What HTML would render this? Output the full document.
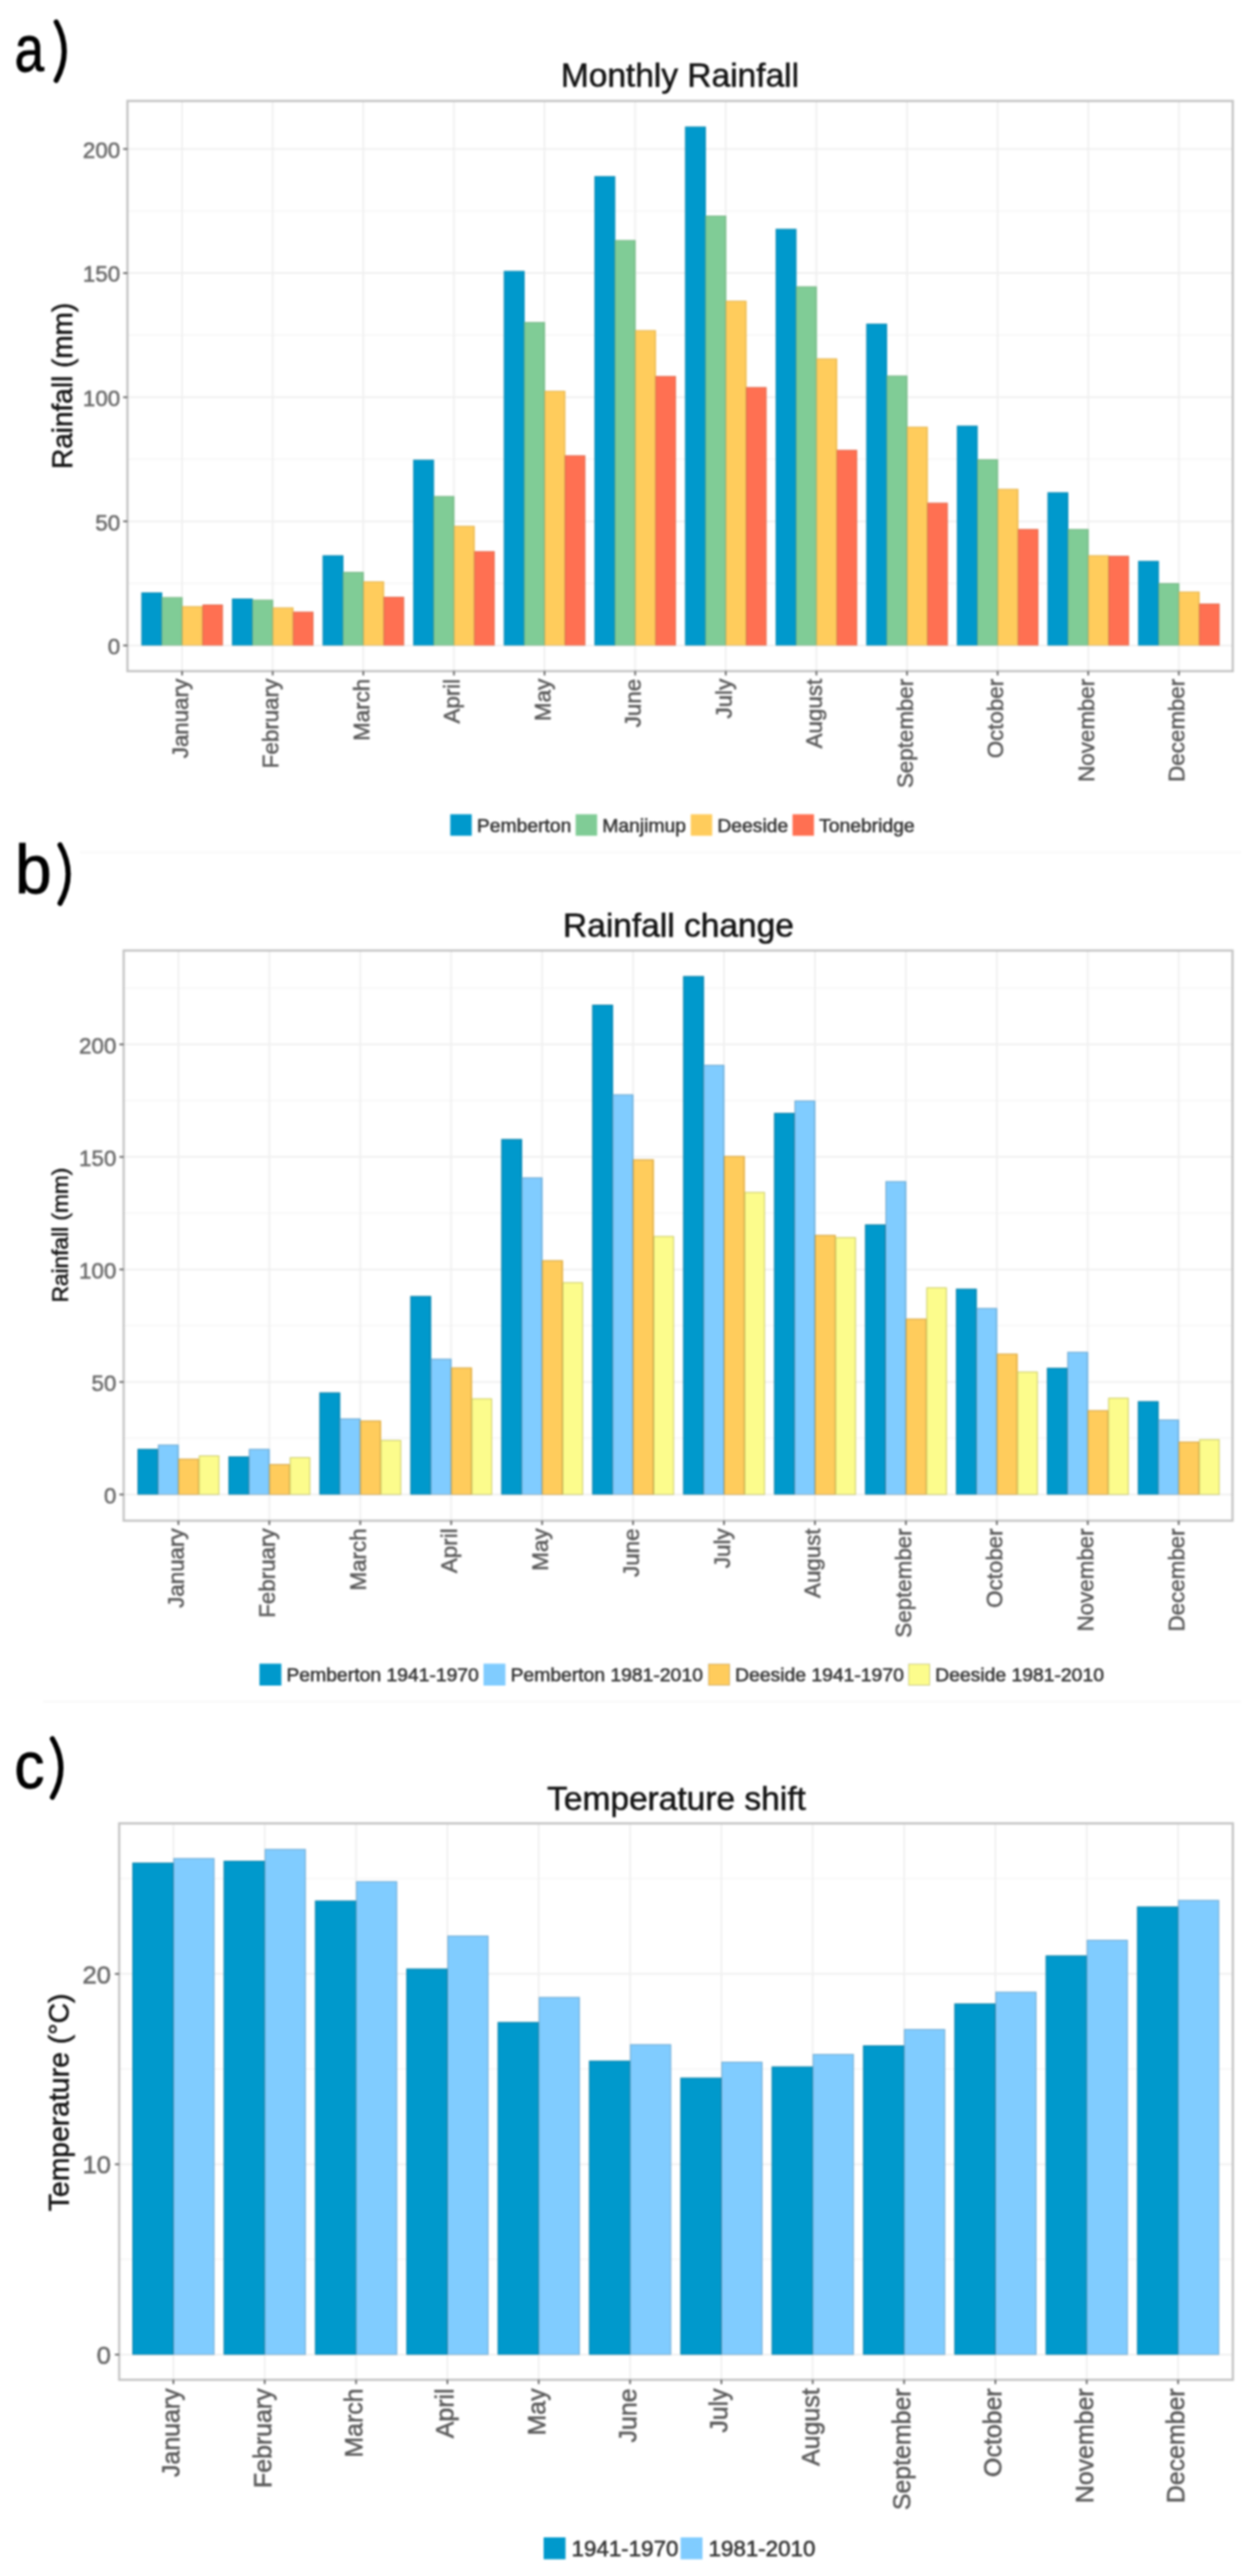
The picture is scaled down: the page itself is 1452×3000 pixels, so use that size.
<!DOCTYPE html>
<html><head><meta charset="utf-8"><title>Rainfall and temperature charts</title>
<style>html,body{margin:0;padding:0;background:#fff;width:1452px;height:3000px;overflow:hidden}
svg text{font-family:"Liberation Sans", sans-serif;} svg{filter:blur(1.0px)}</style></head>
<body>
<svg width="1452" height="3000" viewBox="0 0 1452 3000" style="display:block">
<rect x="0" y="0" width="1452" height="3000" fill="#fff"/>
<line x1="93.00" y1="992.50" x2="1445.00" y2="992.50" stroke="#f8f8f8" stroke-width="2"/>
<line x1="50.00" y1="1981.80" x2="1445.00" y2="1981.80" stroke="#f8f8f8" stroke-width="2"/>
<line x1="148.40" y1="679.43" x2="1435.40" y2="679.43" stroke="#f4f4f4" stroke-width="1.2"/>
<line x1="148.40" y1="534.88" x2="1435.40" y2="534.88" stroke="#f4f4f4" stroke-width="1.2"/>
<line x1="148.40" y1="390.33" x2="1435.40" y2="390.33" stroke="#f4f4f4" stroke-width="1.2"/>
<line x1="148.40" y1="245.78" x2="1435.40" y2="245.78" stroke="#f4f4f4" stroke-width="1.2"/>
<line x1="148.40" y1="751.70" x2="1435.40" y2="751.70" stroke="#f0f0f0" stroke-width="2"/>
<line x1="148.40" y1="607.15" x2="1435.40" y2="607.15" stroke="#f0f0f0" stroke-width="2"/>
<line x1="148.40" y1="462.60" x2="1435.40" y2="462.60" stroke="#f0f0f0" stroke-width="2"/>
<line x1="148.40" y1="318.05" x2="1435.40" y2="318.05" stroke="#f0f0f0" stroke-width="2"/>
<line x1="148.40" y1="173.50" x2="1435.40" y2="173.50" stroke="#f0f0f0" stroke-width="2"/>
<line x1="212.05" y1="117.60" x2="212.05" y2="781.60" stroke="#f0f0f0" stroke-width="2"/>
<line x1="317.56" y1="117.60" x2="317.56" y2="781.60" stroke="#f0f0f0" stroke-width="2"/>
<line x1="423.07" y1="117.60" x2="423.07" y2="781.60" stroke="#f0f0f0" stroke-width="2"/>
<line x1="528.58" y1="117.60" x2="528.58" y2="781.60" stroke="#f0f0f0" stroke-width="2"/>
<line x1="634.09" y1="117.60" x2="634.09" y2="781.60" stroke="#f0f0f0" stroke-width="2"/>
<line x1="739.60" y1="117.60" x2="739.60" y2="781.60" stroke="#f0f0f0" stroke-width="2"/>
<line x1="845.11" y1="117.60" x2="845.11" y2="781.60" stroke="#f0f0f0" stroke-width="2"/>
<line x1="950.62" y1="117.60" x2="950.62" y2="781.60" stroke="#f0f0f0" stroke-width="2"/>
<line x1="1056.13" y1="117.60" x2="1056.13" y2="781.60" stroke="#f0f0f0" stroke-width="2"/>
<line x1="1161.64" y1="117.60" x2="1161.64" y2="781.60" stroke="#f0f0f0" stroke-width="2"/>
<line x1="1267.15" y1="117.60" x2="1267.15" y2="781.60" stroke="#f0f0f0" stroke-width="2"/>
<line x1="1372.66" y1="117.60" x2="1372.66" y2="781.60" stroke="#f0f0f0" stroke-width="2"/>
<rect x="164.57" y="689.90" width="24.34" height="61.80" fill="#0099cc"/>
<rect x="165.07" y="690.40" width="22.74" height="61.30" fill="none" stroke="rgba(90,80,60,0.18)" stroke-width="1"/>
<rect x="188.31" y="695.40" width="24.34" height="56.30" fill="#80cc96"/>
<rect x="188.81" y="695.90" width="22.74" height="55.80" fill="none" stroke="rgba(90,80,60,0.18)" stroke-width="1"/>
<rect x="212.05" y="705.90" width="24.34" height="45.80" fill="#ffcc5c"/>
<rect x="212.55" y="706.40" width="22.74" height="45.30" fill="none" stroke="rgba(90,80,60,0.18)" stroke-width="1"/>
<rect x="235.79" y="704.00" width="23.74" height="47.70" fill="#ff7052"/>
<rect x="236.29" y="704.50" width="22.74" height="47.20" fill="none" stroke="rgba(90,80,60,0.18)" stroke-width="1"/>
<rect x="270.08" y="697.00" width="24.34" height="54.70" fill="#0099cc"/>
<rect x="270.58" y="697.50" width="22.74" height="54.20" fill="none" stroke="rgba(90,80,60,0.18)" stroke-width="1"/>
<rect x="293.82" y="698.40" width="24.34" height="53.30" fill="#80cc96"/>
<rect x="294.32" y="698.90" width="22.74" height="52.80" fill="none" stroke="rgba(90,80,60,0.18)" stroke-width="1"/>
<rect x="317.56" y="707.40" width="24.34" height="44.30" fill="#ffcc5c"/>
<rect x="318.06" y="707.90" width="22.74" height="43.80" fill="none" stroke="rgba(90,80,60,0.18)" stroke-width="1"/>
<rect x="341.30" y="712.40" width="23.74" height="39.30" fill="#ff7052"/>
<rect x="341.80" y="712.90" width="22.74" height="38.80" fill="none" stroke="rgba(90,80,60,0.18)" stroke-width="1"/>
<rect x="375.59" y="646.70" width="24.34" height="105.00" fill="#0099cc"/>
<rect x="376.09" y="647.20" width="22.74" height="104.50" fill="none" stroke="rgba(90,80,60,0.18)" stroke-width="1"/>
<rect x="399.33" y="666.00" width="24.34" height="85.70" fill="#80cc96"/>
<rect x="399.83" y="666.50" width="22.74" height="85.20" fill="none" stroke="rgba(90,80,60,0.18)" stroke-width="1"/>
<rect x="423.07" y="677.00" width="24.34" height="74.70" fill="#ffcc5c"/>
<rect x="423.57" y="677.50" width="22.74" height="74.20" fill="none" stroke="rgba(90,80,60,0.18)" stroke-width="1"/>
<rect x="446.81" y="695.00" width="23.74" height="56.70" fill="#ff7052"/>
<rect x="447.31" y="695.50" width="22.74" height="56.20" fill="none" stroke="rgba(90,80,60,0.18)" stroke-width="1"/>
<rect x="481.10" y="535.40" width="24.34" height="216.30" fill="#0099cc"/>
<rect x="481.60" y="535.90" width="22.74" height="215.80" fill="none" stroke="rgba(90,80,60,0.18)" stroke-width="1"/>
<rect x="504.84" y="577.70" width="24.34" height="174.00" fill="#80cc96"/>
<rect x="505.34" y="578.20" width="22.74" height="173.50" fill="none" stroke="rgba(90,80,60,0.18)" stroke-width="1"/>
<rect x="528.58" y="612.40" width="24.34" height="139.30" fill="#ffcc5c"/>
<rect x="529.08" y="612.90" width="22.74" height="138.80" fill="none" stroke="rgba(90,80,60,0.18)" stroke-width="1"/>
<rect x="552.32" y="641.90" width="23.74" height="109.80" fill="#ff7052"/>
<rect x="552.82" y="642.40" width="22.74" height="109.30" fill="none" stroke="rgba(90,80,60,0.18)" stroke-width="1"/>
<rect x="586.61" y="315.50" width="24.34" height="436.20" fill="#0099cc"/>
<rect x="587.11" y="316.00" width="22.74" height="435.70" fill="none" stroke="rgba(90,80,60,0.18)" stroke-width="1"/>
<rect x="610.35" y="375.00" width="24.34" height="376.70" fill="#80cc96"/>
<rect x="610.85" y="375.50" width="22.74" height="376.20" fill="none" stroke="rgba(90,80,60,0.18)" stroke-width="1"/>
<rect x="634.09" y="455.10" width="24.34" height="296.60" fill="#ffcc5c"/>
<rect x="634.59" y="455.60" width="22.74" height="296.10" fill="none" stroke="rgba(90,80,60,0.18)" stroke-width="1"/>
<rect x="657.83" y="530.30" width="23.74" height="221.40" fill="#ff7052"/>
<rect x="658.33" y="530.80" width="22.74" height="220.90" fill="none" stroke="rgba(90,80,60,0.18)" stroke-width="1"/>
<rect x="692.12" y="205.10" width="24.34" height="546.60" fill="#0099cc"/>
<rect x="692.62" y="205.60" width="22.74" height="546.10" fill="none" stroke="rgba(90,80,60,0.18)" stroke-width="1"/>
<rect x="715.86" y="279.60" width="24.34" height="472.10" fill="#80cc96"/>
<rect x="716.36" y="280.10" width="22.74" height="471.60" fill="none" stroke="rgba(90,80,60,0.18)" stroke-width="1"/>
<rect x="739.60" y="384.50" width="24.34" height="367.20" fill="#ffcc5c"/>
<rect x="740.10" y="385.00" width="22.74" height="366.70" fill="none" stroke="rgba(90,80,60,0.18)" stroke-width="1"/>
<rect x="763.34" y="437.90" width="23.74" height="313.80" fill="#ff7052"/>
<rect x="763.84" y="438.40" width="22.74" height="313.30" fill="none" stroke="rgba(90,80,60,0.18)" stroke-width="1"/>
<rect x="797.63" y="147.40" width="24.34" height="604.30" fill="#0099cc"/>
<rect x="798.13" y="147.90" width="22.74" height="603.80" fill="none" stroke="rgba(90,80,60,0.18)" stroke-width="1"/>
<rect x="821.37" y="251.10" width="24.34" height="500.60" fill="#80cc96"/>
<rect x="821.87" y="251.60" width="22.74" height="500.10" fill="none" stroke="rgba(90,80,60,0.18)" stroke-width="1"/>
<rect x="845.11" y="350.20" width="24.34" height="401.50" fill="#ffcc5c"/>
<rect x="845.61" y="350.70" width="22.74" height="401.00" fill="none" stroke="rgba(90,80,60,0.18)" stroke-width="1"/>
<rect x="868.85" y="450.80" width="23.74" height="300.90" fill="#ff7052"/>
<rect x="869.35" y="451.30" width="22.74" height="300.40" fill="none" stroke="rgba(90,80,60,0.18)" stroke-width="1"/>
<rect x="903.14" y="266.50" width="24.34" height="485.20" fill="#0099cc"/>
<rect x="903.64" y="267.00" width="22.74" height="484.70" fill="none" stroke="rgba(90,80,60,0.18)" stroke-width="1"/>
<rect x="926.88" y="333.50" width="24.34" height="418.20" fill="#80cc96"/>
<rect x="927.38" y="334.00" width="22.74" height="417.70" fill="none" stroke="rgba(90,80,60,0.18)" stroke-width="1"/>
<rect x="950.62" y="417.40" width="24.34" height="334.30" fill="#ffcc5c"/>
<rect x="951.12" y="417.90" width="22.74" height="333.80" fill="none" stroke="rgba(90,80,60,0.18)" stroke-width="1"/>
<rect x="974.36" y="523.90" width="23.74" height="227.80" fill="#ff7052"/>
<rect x="974.86" y="524.40" width="22.74" height="227.30" fill="none" stroke="rgba(90,80,60,0.18)" stroke-width="1"/>
<rect x="1008.65" y="376.90" width="24.34" height="374.80" fill="#0099cc"/>
<rect x="1009.15" y="377.40" width="22.74" height="374.30" fill="none" stroke="rgba(90,80,60,0.18)" stroke-width="1"/>
<rect x="1032.39" y="437.40" width="24.34" height="314.30" fill="#80cc96"/>
<rect x="1032.89" y="437.90" width="22.74" height="313.80" fill="none" stroke="rgba(90,80,60,0.18)" stroke-width="1"/>
<rect x="1056.13" y="496.90" width="24.34" height="254.80" fill="#ffcc5c"/>
<rect x="1056.63" y="497.40" width="22.74" height="254.30" fill="none" stroke="rgba(90,80,60,0.18)" stroke-width="1"/>
<rect x="1079.87" y="585.50" width="23.74" height="166.20" fill="#ff7052"/>
<rect x="1080.37" y="586.00" width="22.74" height="165.70" fill="none" stroke="rgba(90,80,60,0.18)" stroke-width="1"/>
<rect x="1114.16" y="495.70" width="24.34" height="256.00" fill="#0099cc"/>
<rect x="1114.66" y="496.20" width="22.74" height="255.50" fill="none" stroke="rgba(90,80,60,0.18)" stroke-width="1"/>
<rect x="1137.90" y="534.90" width="24.34" height="216.80" fill="#80cc96"/>
<rect x="1138.40" y="535.40" width="22.74" height="216.30" fill="none" stroke="rgba(90,80,60,0.18)" stroke-width="1"/>
<rect x="1161.64" y="569.30" width="24.34" height="182.40" fill="#ffcc5c"/>
<rect x="1162.14" y="569.80" width="22.74" height="181.90" fill="none" stroke="rgba(90,80,60,0.18)" stroke-width="1"/>
<rect x="1185.38" y="616.10" width="23.74" height="135.60" fill="#ff7052"/>
<rect x="1185.88" y="616.60" width="22.74" height="135.10" fill="none" stroke="rgba(90,80,60,0.18)" stroke-width="1"/>
<rect x="1219.67" y="573.30" width="24.34" height="178.40" fill="#0099cc"/>
<rect x="1220.17" y="573.80" width="22.74" height="177.90" fill="none" stroke="rgba(90,80,60,0.18)" stroke-width="1"/>
<rect x="1243.41" y="616.10" width="24.34" height="135.60" fill="#80cc96"/>
<rect x="1243.91" y="616.60" width="22.74" height="135.10" fill="none" stroke="rgba(90,80,60,0.18)" stroke-width="1"/>
<rect x="1267.15" y="646.60" width="24.34" height="105.10" fill="#ffcc5c"/>
<rect x="1267.65" y="647.10" width="22.74" height="104.60" fill="none" stroke="rgba(90,80,60,0.18)" stroke-width="1"/>
<rect x="1290.89" y="647.30" width="23.74" height="104.40" fill="#ff7052"/>
<rect x="1291.39" y="647.80" width="22.74" height="103.90" fill="none" stroke="rgba(90,80,60,0.18)" stroke-width="1"/>
<rect x="1325.18" y="653.20" width="24.34" height="98.50" fill="#0099cc"/>
<rect x="1325.68" y="653.70" width="22.74" height="98.00" fill="none" stroke="rgba(90,80,60,0.18)" stroke-width="1"/>
<rect x="1348.92" y="679.10" width="24.34" height="72.60" fill="#80cc96"/>
<rect x="1349.42" y="679.60" width="22.74" height="72.10" fill="none" stroke="rgba(90,80,60,0.18)" stroke-width="1"/>
<rect x="1372.66" y="688.90" width="24.34" height="62.80" fill="#ffcc5c"/>
<rect x="1373.16" y="689.40" width="22.74" height="62.30" fill="none" stroke="rgba(90,80,60,0.18)" stroke-width="1"/>
<rect x="1396.40" y="702.90" width="23.74" height="48.80" fill="#ff7052"/>
<rect x="1396.90" y="703.40" width="22.74" height="48.30" fill="none" stroke="rgba(90,80,60,0.18)" stroke-width="1"/>
<rect x="148.40" y="117.60" width="1287.00" height="664.00" fill="none" stroke="#c4c4c4" stroke-width="2.6"/>
<line x1="143.40" y1="751.70" x2="148.40" y2="751.70" stroke="#666666" stroke-width="2"/>
<text x="139.90" y="762.06" font-size="26" fill="#6a6a6a" text-anchor="end" stroke="#6a6a6a" stroke-width="0.6">0</text>
<line x1="143.40" y1="607.15" x2="148.40" y2="607.15" stroke="#666666" stroke-width="2"/>
<text x="139.90" y="617.51" font-size="26" fill="#6a6a6a" text-anchor="end" stroke="#6a6a6a" stroke-width="0.6">50</text>
<line x1="143.40" y1="462.60" x2="148.40" y2="462.60" stroke="#666666" stroke-width="2"/>
<text x="139.90" y="472.96" font-size="26" fill="#6a6a6a" text-anchor="end" stroke="#6a6a6a" stroke-width="0.6">100</text>
<line x1="143.40" y1="318.05" x2="148.40" y2="318.05" stroke="#666666" stroke-width="2"/>
<text x="139.90" y="328.41" font-size="26" fill="#6a6a6a" text-anchor="end" stroke="#6a6a6a" stroke-width="0.6">150</text>
<line x1="143.40" y1="173.50" x2="148.40" y2="173.50" stroke="#666666" stroke-width="2"/>
<text x="139.90" y="183.86" font-size="26" fill="#6a6a6a" text-anchor="end" stroke="#6a6a6a" stroke-width="0.6">200</text>
<line x1="212.05" y1="781.60" x2="212.05" y2="786.60" stroke="#666666" stroke-width="2"/>
<text x="218.55" y="790.60" font-size="26" fill="#5a5a5a" text-anchor="end" stroke="#5a5a5a" stroke-width="0.6" transform="rotate(-90 218.55 790.60)">January</text>
<line x1="317.56" y1="781.60" x2="317.56" y2="786.60" stroke="#666666" stroke-width="2"/>
<text x="324.06" y="790.60" font-size="26" fill="#5a5a5a" text-anchor="end" stroke="#5a5a5a" stroke-width="0.6" transform="rotate(-90 324.06 790.60)">February</text>
<line x1="423.07" y1="781.60" x2="423.07" y2="786.60" stroke="#666666" stroke-width="2"/>
<text x="429.57" y="790.60" font-size="26" fill="#5a5a5a" text-anchor="end" stroke="#5a5a5a" stroke-width="0.6" transform="rotate(-90 429.57 790.60)">March</text>
<line x1="528.58" y1="781.60" x2="528.58" y2="786.60" stroke="#666666" stroke-width="2"/>
<text x="535.08" y="790.60" font-size="26" fill="#5a5a5a" text-anchor="end" stroke="#5a5a5a" stroke-width="0.6" transform="rotate(-90 535.08 790.60)">April</text>
<line x1="634.09" y1="781.60" x2="634.09" y2="786.60" stroke="#666666" stroke-width="2"/>
<text x="640.59" y="790.60" font-size="26" fill="#5a5a5a" text-anchor="end" stroke="#5a5a5a" stroke-width="0.6" transform="rotate(-90 640.59 790.60)">May</text>
<line x1="739.60" y1="781.60" x2="739.60" y2="786.60" stroke="#666666" stroke-width="2"/>
<text x="746.10" y="790.60" font-size="26" fill="#5a5a5a" text-anchor="end" stroke="#5a5a5a" stroke-width="0.6" transform="rotate(-90 746.10 790.60)">June</text>
<line x1="845.11" y1="781.60" x2="845.11" y2="786.60" stroke="#666666" stroke-width="2"/>
<text x="851.61" y="790.60" font-size="26" fill="#5a5a5a" text-anchor="end" stroke="#5a5a5a" stroke-width="0.6" transform="rotate(-90 851.61 790.60)">July</text>
<line x1="950.62" y1="781.60" x2="950.62" y2="786.60" stroke="#666666" stroke-width="2"/>
<text x="957.12" y="790.60" font-size="26" fill="#5a5a5a" text-anchor="end" stroke="#5a5a5a" stroke-width="0.6" transform="rotate(-90 957.12 790.60)">August</text>
<line x1="1056.13" y1="781.60" x2="1056.13" y2="786.60" stroke="#666666" stroke-width="2"/>
<text x="1062.63" y="790.60" font-size="26" fill="#5a5a5a" text-anchor="end" stroke="#5a5a5a" stroke-width="0.6" transform="rotate(-90 1062.63 790.60)">September</text>
<line x1="1161.64" y1="781.60" x2="1161.64" y2="786.60" stroke="#666666" stroke-width="2"/>
<text x="1168.14" y="790.60" font-size="26" fill="#5a5a5a" text-anchor="end" stroke="#5a5a5a" stroke-width="0.6" transform="rotate(-90 1168.14 790.60)">October</text>
<line x1="1267.15" y1="781.60" x2="1267.15" y2="786.60" stroke="#666666" stroke-width="2"/>
<text x="1273.65" y="790.60" font-size="26" fill="#5a5a5a" text-anchor="end" stroke="#5a5a5a" stroke-width="0.6" transform="rotate(-90 1273.65 790.60)">November</text>
<line x1="1372.66" y1="781.60" x2="1372.66" y2="786.60" stroke="#666666" stroke-width="2"/>
<text x="1379.16" y="790.60" font-size="26" fill="#5a5a5a" text-anchor="end" stroke="#5a5a5a" stroke-width="0.6" transform="rotate(-90 1379.16 790.60)">December</text>
<text x="791.70" y="101.30" font-size="39" fill="#141414" text-anchor="middle" stroke="#141414" stroke-width="0.6">Monthly Rainfall</text>
<text x="83.80" y="449.40" font-size="32.5" fill="#141414" text-anchor="middle" stroke="#141414" stroke-width="0.6" transform="rotate(-90 83.80 449.40)">Rainfall (mm)</text>
<text transform="translate(17.00 82.60) scale(0.81 1)" x="0" y="0" font-size="76" fill="#000" stroke="#000" stroke-width="0.9">a</text>
<path d="M65.5 25.6 Q84.1 59.6 65.5 93.6" fill="none" stroke="#000" stroke-width="6" stroke-linecap="round"/>
<rect x="524.30" y="948.30" width="25.00" height="25.00" fill="#0099cc"/>
<text x="555.30" y="968.90" font-size="22.5" fill="#333" text-anchor="start" stroke="#333" stroke-width="0.6">Pemberton</text>
<rect x="670.30" y="948.30" width="25.00" height="25.00" fill="#80cc96"/>
<text x="701.30" y="968.90" font-size="22.5" fill="#333" text-anchor="start" stroke="#333" stroke-width="0.6">Manjimup</text>
<rect x="804.30" y="948.30" width="25.00" height="25.00" fill="#ffcc5c"/>
<text x="835.30" y="968.90" font-size="22.5" fill="#333" text-anchor="start" stroke="#333" stroke-width="0.6">Deeside</text>
<rect x="922.80" y="948.30" width="25.00" height="25.00" fill="#ff7052"/>
<text x="953.80" y="968.90" font-size="22.5" fill="#333" text-anchor="start" stroke="#333" stroke-width="0.6">Tonebridge</text>
<line x1="144.00" y1="1674.97" x2="1435.10" y2="1674.97" stroke="#f4f4f4" stroke-width="1.2"/>
<line x1="144.00" y1="1543.92" x2="1435.10" y2="1543.92" stroke="#f4f4f4" stroke-width="1.2"/>
<line x1="144.00" y1="1412.88" x2="1435.10" y2="1412.88" stroke="#f4f4f4" stroke-width="1.2"/>
<line x1="144.00" y1="1281.83" x2="1435.10" y2="1281.83" stroke="#f4f4f4" stroke-width="1.2"/>
<line x1="144.00" y1="1150.78" x2="1435.10" y2="1150.78" stroke="#f4f4f4" stroke-width="1.2"/>
<line x1="144.00" y1="1740.50" x2="1435.10" y2="1740.50" stroke="#f0f0f0" stroke-width="2"/>
<line x1="144.00" y1="1609.45" x2="1435.10" y2="1609.45" stroke="#f0f0f0" stroke-width="2"/>
<line x1="144.00" y1="1478.40" x2="1435.10" y2="1478.40" stroke="#f0f0f0" stroke-width="2"/>
<line x1="144.00" y1="1347.35" x2="1435.10" y2="1347.35" stroke="#f0f0f0" stroke-width="2"/>
<line x1="144.00" y1="1216.30" x2="1435.10" y2="1216.30" stroke="#f0f0f0" stroke-width="2"/>
<line x1="207.70" y1="1107.00" x2="207.70" y2="1771.00" stroke="#f0f0f0" stroke-width="2"/>
<line x1="313.59" y1="1107.00" x2="313.59" y2="1771.00" stroke="#f0f0f0" stroke-width="2"/>
<line x1="419.48" y1="1107.00" x2="419.48" y2="1771.00" stroke="#f0f0f0" stroke-width="2"/>
<line x1="525.37" y1="1107.00" x2="525.37" y2="1771.00" stroke="#f0f0f0" stroke-width="2"/>
<line x1="631.26" y1="1107.00" x2="631.26" y2="1771.00" stroke="#f0f0f0" stroke-width="2"/>
<line x1="737.15" y1="1107.00" x2="737.15" y2="1771.00" stroke="#f0f0f0" stroke-width="2"/>
<line x1="843.04" y1="1107.00" x2="843.04" y2="1771.00" stroke="#f0f0f0" stroke-width="2"/>
<line x1="948.93" y1="1107.00" x2="948.93" y2="1771.00" stroke="#f0f0f0" stroke-width="2"/>
<line x1="1054.82" y1="1107.00" x2="1054.82" y2="1771.00" stroke="#f0f0f0" stroke-width="2"/>
<line x1="1160.71" y1="1107.00" x2="1160.71" y2="1771.00" stroke="#f0f0f0" stroke-width="2"/>
<line x1="1266.60" y1="1107.00" x2="1266.60" y2="1771.00" stroke="#f0f0f0" stroke-width="2"/>
<line x1="1372.49" y1="1107.00" x2="1372.49" y2="1771.00" stroke="#f0f0f0" stroke-width="2"/>
<rect x="160.05" y="1687.40" width="24.43" height="53.10" fill="#0099cc"/>
<rect x="160.55" y="1687.90" width="22.83" height="52.60" fill="none" stroke="rgba(60,60,60,0.28)" stroke-width="1"/>
<rect x="183.87" y="1682.40" width="24.43" height="58.10" fill="#80ccff"/>
<rect x="184.37" y="1682.90" width="22.83" height="57.60" fill="none" stroke="rgba(60,60,60,0.28)" stroke-width="1"/>
<rect x="207.70" y="1698.80" width="24.43" height="41.70" fill="#ffcc5c"/>
<rect x="208.20" y="1699.30" width="22.83" height="41.20" fill="none" stroke="rgba(150,110,40,0.45)" stroke-width="1"/>
<rect x="231.53" y="1695.00" width="23.83" height="45.50" fill="#fcfc8c"/>
<rect x="232.03" y="1695.50" width="22.83" height="45.00" fill="none" stroke="rgba(140,140,60,0.45)" stroke-width="1"/>
<rect x="265.94" y="1696.10" width="24.43" height="44.40" fill="#0099cc"/>
<rect x="266.44" y="1696.60" width="22.83" height="43.90" fill="none" stroke="rgba(60,60,60,0.28)" stroke-width="1"/>
<rect x="289.76" y="1687.40" width="24.43" height="53.10" fill="#80ccff"/>
<rect x="290.26" y="1687.90" width="22.83" height="52.60" fill="none" stroke="rgba(60,60,60,0.28)" stroke-width="1"/>
<rect x="313.59" y="1705.10" width="24.43" height="35.40" fill="#ffcc5c"/>
<rect x="314.09" y="1705.60" width="22.83" height="34.90" fill="none" stroke="rgba(150,110,40,0.45)" stroke-width="1"/>
<rect x="337.42" y="1697.00" width="23.83" height="43.50" fill="#fcfc8c"/>
<rect x="337.92" y="1697.50" width="22.83" height="43.00" fill="none" stroke="rgba(140,140,60,0.45)" stroke-width="1"/>
<rect x="371.83" y="1621.60" width="24.43" height="118.90" fill="#0099cc"/>
<rect x="372.33" y="1622.10" width="22.83" height="118.40" fill="none" stroke="rgba(60,60,60,0.28)" stroke-width="1"/>
<rect x="395.65" y="1651.90" width="24.43" height="88.60" fill="#80ccff"/>
<rect x="396.15" y="1652.40" width="22.83" height="88.10" fill="none" stroke="rgba(60,60,60,0.28)" stroke-width="1"/>
<rect x="419.48" y="1654.40" width="24.43" height="86.10" fill="#ffcc5c"/>
<rect x="419.98" y="1654.90" width="22.83" height="85.60" fill="none" stroke="rgba(150,110,40,0.45)" stroke-width="1"/>
<rect x="443.31" y="1677.00" width="23.83" height="63.50" fill="#fcfc8c"/>
<rect x="443.81" y="1677.50" width="22.83" height="63.00" fill="none" stroke="rgba(140,140,60,0.45)" stroke-width="1"/>
<rect x="477.72" y="1509.30" width="24.43" height="231.20" fill="#0099cc"/>
<rect x="478.22" y="1509.80" width="22.83" height="230.70" fill="none" stroke="rgba(60,60,60,0.28)" stroke-width="1"/>
<rect x="501.54" y="1582.40" width="24.43" height="158.10" fill="#80ccff"/>
<rect x="502.04" y="1582.90" width="22.83" height="157.60" fill="none" stroke="rgba(60,60,60,0.28)" stroke-width="1"/>
<rect x="525.37" y="1592.60" width="24.43" height="147.90" fill="#ffcc5c"/>
<rect x="525.87" y="1593.10" width="22.83" height="147.40" fill="none" stroke="rgba(150,110,40,0.45)" stroke-width="1"/>
<rect x="549.20" y="1628.60" width="23.83" height="111.90" fill="#fcfc8c"/>
<rect x="549.70" y="1629.10" width="22.83" height="111.40" fill="none" stroke="rgba(140,140,60,0.45)" stroke-width="1"/>
<rect x="583.61" y="1326.50" width="24.43" height="414.00" fill="#0099cc"/>
<rect x="584.11" y="1327.00" width="22.83" height="413.50" fill="none" stroke="rgba(60,60,60,0.28)" stroke-width="1"/>
<rect x="607.43" y="1371.20" width="24.43" height="369.30" fill="#80ccff"/>
<rect x="607.93" y="1371.70" width="22.83" height="368.80" fill="none" stroke="rgba(60,60,60,0.28)" stroke-width="1"/>
<rect x="631.26" y="1467.70" width="24.43" height="272.80" fill="#ffcc5c"/>
<rect x="631.76" y="1468.20" width="22.83" height="272.30" fill="none" stroke="rgba(150,110,40,0.45)" stroke-width="1"/>
<rect x="655.09" y="1493.30" width="23.83" height="247.20" fill="#fcfc8c"/>
<rect x="655.59" y="1493.80" width="22.83" height="246.70" fill="none" stroke="rgba(140,140,60,0.45)" stroke-width="1"/>
<rect x="689.50" y="1170.00" width="24.43" height="570.50" fill="#0099cc"/>
<rect x="690.00" y="1170.50" width="22.83" height="570.00" fill="none" stroke="rgba(60,60,60,0.28)" stroke-width="1"/>
<rect x="713.32" y="1274.50" width="24.43" height="466.00" fill="#80ccff"/>
<rect x="713.82" y="1275.00" width="22.83" height="465.50" fill="none" stroke="rgba(60,60,60,0.28)" stroke-width="1"/>
<rect x="737.15" y="1350.20" width="24.43" height="390.30" fill="#ffcc5c"/>
<rect x="737.65" y="1350.70" width="22.83" height="389.80" fill="none" stroke="rgba(150,110,40,0.45)" stroke-width="1"/>
<rect x="760.98" y="1439.50" width="23.83" height="301.00" fill="#fcfc8c"/>
<rect x="761.48" y="1440.00" width="22.83" height="300.50" fill="none" stroke="rgba(140,140,60,0.45)" stroke-width="1"/>
<rect x="795.39" y="1136.70" width="24.43" height="603.80" fill="#0099cc"/>
<rect x="795.89" y="1137.20" width="22.83" height="603.30" fill="none" stroke="rgba(60,60,60,0.28)" stroke-width="1"/>
<rect x="819.21" y="1240.10" width="24.43" height="500.40" fill="#80ccff"/>
<rect x="819.71" y="1240.60" width="22.83" height="499.90" fill="none" stroke="rgba(60,60,60,0.28)" stroke-width="1"/>
<rect x="843.04" y="1346.30" width="24.43" height="394.20" fill="#ffcc5c"/>
<rect x="843.54" y="1346.80" width="22.83" height="393.70" fill="none" stroke="rgba(150,110,40,0.45)" stroke-width="1"/>
<rect x="866.87" y="1388.20" width="23.83" height="352.30" fill="#fcfc8c"/>
<rect x="867.37" y="1388.70" width="22.83" height="351.80" fill="none" stroke="rgba(140,140,60,0.45)" stroke-width="1"/>
<rect x="901.28" y="1296.00" width="24.43" height="444.50" fill="#0099cc"/>
<rect x="901.78" y="1296.50" width="22.83" height="444.00" fill="none" stroke="rgba(60,60,60,0.28)" stroke-width="1"/>
<rect x="925.10" y="1281.70" width="24.43" height="458.80" fill="#80ccff"/>
<rect x="925.60" y="1282.20" width="22.83" height="458.30" fill="none" stroke="rgba(60,60,60,0.28)" stroke-width="1"/>
<rect x="948.93" y="1438.20" width="24.43" height="302.30" fill="#ffcc5c"/>
<rect x="949.43" y="1438.70" width="22.83" height="301.80" fill="none" stroke="rgba(150,110,40,0.45)" stroke-width="1"/>
<rect x="972.76" y="1440.80" width="23.83" height="299.70" fill="#fcfc8c"/>
<rect x="973.26" y="1441.30" width="22.83" height="299.20" fill="none" stroke="rgba(140,140,60,0.45)" stroke-width="1"/>
<rect x="1007.17" y="1425.90" width="24.43" height="314.60" fill="#0099cc"/>
<rect x="1007.67" y="1426.40" width="22.83" height="314.10" fill="none" stroke="rgba(60,60,60,0.28)" stroke-width="1"/>
<rect x="1030.99" y="1375.60" width="24.43" height="364.90" fill="#80ccff"/>
<rect x="1031.49" y="1376.10" width="22.83" height="364.40" fill="none" stroke="rgba(60,60,60,0.28)" stroke-width="1"/>
<rect x="1054.82" y="1535.70" width="24.43" height="204.80" fill="#ffcc5c"/>
<rect x="1055.32" y="1536.20" width="22.83" height="204.30" fill="none" stroke="rgba(150,110,40,0.45)" stroke-width="1"/>
<rect x="1078.65" y="1499.30" width="23.83" height="241.20" fill="#fcfc8c"/>
<rect x="1079.15" y="1499.80" width="22.83" height="240.70" fill="none" stroke="rgba(140,140,60,0.45)" stroke-width="1"/>
<rect x="1113.06" y="1500.80" width="24.43" height="239.70" fill="#0099cc"/>
<rect x="1113.56" y="1501.30" width="22.83" height="239.20" fill="none" stroke="rgba(60,60,60,0.28)" stroke-width="1"/>
<rect x="1136.88" y="1523.30" width="24.43" height="217.20" fill="#80ccff"/>
<rect x="1137.38" y="1523.80" width="22.83" height="216.70" fill="none" stroke="rgba(60,60,60,0.28)" stroke-width="1"/>
<rect x="1160.71" y="1576.50" width="24.43" height="164.00" fill="#ffcc5c"/>
<rect x="1161.21" y="1577.00" width="22.83" height="163.50" fill="none" stroke="rgba(150,110,40,0.45)" stroke-width="1"/>
<rect x="1184.54" y="1597.40" width="23.83" height="143.10" fill="#fcfc8c"/>
<rect x="1185.04" y="1597.90" width="22.83" height="142.60" fill="none" stroke="rgba(140,140,60,0.45)" stroke-width="1"/>
<rect x="1218.95" y="1592.90" width="24.43" height="147.60" fill="#0099cc"/>
<rect x="1219.45" y="1593.40" width="22.83" height="147.10" fill="none" stroke="rgba(60,60,60,0.28)" stroke-width="1"/>
<rect x="1242.77" y="1574.40" width="24.43" height="166.10" fill="#80ccff"/>
<rect x="1243.27" y="1574.90" width="22.83" height="165.60" fill="none" stroke="rgba(60,60,60,0.28)" stroke-width="1"/>
<rect x="1266.60" y="1642.40" width="24.43" height="98.10" fill="#ffcc5c"/>
<rect x="1267.10" y="1642.90" width="22.83" height="97.60" fill="none" stroke="rgba(150,110,40,0.45)" stroke-width="1"/>
<rect x="1290.43" y="1627.80" width="23.83" height="112.70" fill="#fcfc8c"/>
<rect x="1290.93" y="1628.30" width="22.83" height="112.20" fill="none" stroke="rgba(140,140,60,0.45)" stroke-width="1"/>
<rect x="1324.84" y="1631.80" width="24.43" height="108.70" fill="#0099cc"/>
<rect x="1325.34" y="1632.30" width="22.83" height="108.20" fill="none" stroke="rgba(60,60,60,0.28)" stroke-width="1"/>
<rect x="1348.66" y="1653.20" width="24.43" height="87.30" fill="#80ccff"/>
<rect x="1349.16" y="1653.70" width="22.83" height="86.80" fill="none" stroke="rgba(60,60,60,0.28)" stroke-width="1"/>
<rect x="1372.49" y="1678.90" width="24.43" height="61.60" fill="#ffcc5c"/>
<rect x="1372.99" y="1679.40" width="22.83" height="61.10" fill="none" stroke="rgba(150,110,40,0.45)" stroke-width="1"/>
<rect x="1396.32" y="1676.20" width="23.83" height="64.30" fill="#fcfc8c"/>
<rect x="1396.82" y="1676.70" width="22.83" height="63.80" fill="none" stroke="rgba(140,140,60,0.45)" stroke-width="1"/>
<rect x="144.00" y="1107.00" width="1291.10" height="664.00" fill="none" stroke="#c4c4c4" stroke-width="2.6"/>
<line x1="139.00" y1="1740.50" x2="144.00" y2="1740.50" stroke="#666666" stroke-width="2"/>
<text x="135.50" y="1750.86" font-size="26" fill="#6a6a6a" text-anchor="end" stroke="#6a6a6a" stroke-width="0.6">0</text>
<line x1="139.00" y1="1609.45" x2="144.00" y2="1609.45" stroke="#666666" stroke-width="2"/>
<text x="135.50" y="1619.81" font-size="26" fill="#6a6a6a" text-anchor="end" stroke="#6a6a6a" stroke-width="0.6">50</text>
<line x1="139.00" y1="1478.40" x2="144.00" y2="1478.40" stroke="#666666" stroke-width="2"/>
<text x="135.50" y="1488.76" font-size="26" fill="#6a6a6a" text-anchor="end" stroke="#6a6a6a" stroke-width="0.6">100</text>
<line x1="139.00" y1="1347.35" x2="144.00" y2="1347.35" stroke="#666666" stroke-width="2"/>
<text x="135.50" y="1357.71" font-size="26" fill="#6a6a6a" text-anchor="end" stroke="#6a6a6a" stroke-width="0.6">150</text>
<line x1="139.00" y1="1216.30" x2="144.00" y2="1216.30" stroke="#666666" stroke-width="2"/>
<text x="135.50" y="1226.66" font-size="26" fill="#6a6a6a" text-anchor="end" stroke="#6a6a6a" stroke-width="0.6">200</text>
<line x1="207.70" y1="1771.00" x2="207.70" y2="1776.00" stroke="#666666" stroke-width="2"/>
<text x="214.20" y="1780.00" font-size="26" fill="#5a5a5a" text-anchor="end" stroke="#5a5a5a" stroke-width="0.6" transform="rotate(-90 214.20 1780.00)">January</text>
<line x1="313.59" y1="1771.00" x2="313.59" y2="1776.00" stroke="#666666" stroke-width="2"/>
<text x="320.09" y="1780.00" font-size="26" fill="#5a5a5a" text-anchor="end" stroke="#5a5a5a" stroke-width="0.6" transform="rotate(-90 320.09 1780.00)">February</text>
<line x1="419.48" y1="1771.00" x2="419.48" y2="1776.00" stroke="#666666" stroke-width="2"/>
<text x="425.98" y="1780.00" font-size="26" fill="#5a5a5a" text-anchor="end" stroke="#5a5a5a" stroke-width="0.6" transform="rotate(-90 425.98 1780.00)">March</text>
<line x1="525.37" y1="1771.00" x2="525.37" y2="1776.00" stroke="#666666" stroke-width="2"/>
<text x="531.87" y="1780.00" font-size="26" fill="#5a5a5a" text-anchor="end" stroke="#5a5a5a" stroke-width="0.6" transform="rotate(-90 531.87 1780.00)">April</text>
<line x1="631.26" y1="1771.00" x2="631.26" y2="1776.00" stroke="#666666" stroke-width="2"/>
<text x="637.76" y="1780.00" font-size="26" fill="#5a5a5a" text-anchor="end" stroke="#5a5a5a" stroke-width="0.6" transform="rotate(-90 637.76 1780.00)">May</text>
<line x1="737.15" y1="1771.00" x2="737.15" y2="1776.00" stroke="#666666" stroke-width="2"/>
<text x="743.65" y="1780.00" font-size="26" fill="#5a5a5a" text-anchor="end" stroke="#5a5a5a" stroke-width="0.6" transform="rotate(-90 743.65 1780.00)">June</text>
<line x1="843.04" y1="1771.00" x2="843.04" y2="1776.00" stroke="#666666" stroke-width="2"/>
<text x="849.54" y="1780.00" font-size="26" fill="#5a5a5a" text-anchor="end" stroke="#5a5a5a" stroke-width="0.6" transform="rotate(-90 849.54 1780.00)">July</text>
<line x1="948.93" y1="1771.00" x2="948.93" y2="1776.00" stroke="#666666" stroke-width="2"/>
<text x="955.43" y="1780.00" font-size="26" fill="#5a5a5a" text-anchor="end" stroke="#5a5a5a" stroke-width="0.6" transform="rotate(-90 955.43 1780.00)">August</text>
<line x1="1054.82" y1="1771.00" x2="1054.82" y2="1776.00" stroke="#666666" stroke-width="2"/>
<text x="1061.32" y="1780.00" font-size="26" fill="#5a5a5a" text-anchor="end" stroke="#5a5a5a" stroke-width="0.6" transform="rotate(-90 1061.32 1780.00)">September</text>
<line x1="1160.71" y1="1771.00" x2="1160.71" y2="1776.00" stroke="#666666" stroke-width="2"/>
<text x="1167.21" y="1780.00" font-size="26" fill="#5a5a5a" text-anchor="end" stroke="#5a5a5a" stroke-width="0.6" transform="rotate(-90 1167.21 1780.00)">October</text>
<line x1="1266.60" y1="1771.00" x2="1266.60" y2="1776.00" stroke="#666666" stroke-width="2"/>
<text x="1273.10" y="1780.00" font-size="26" fill="#5a5a5a" text-anchor="end" stroke="#5a5a5a" stroke-width="0.6" transform="rotate(-90 1273.10 1780.00)">November</text>
<line x1="1372.49" y1="1771.00" x2="1372.49" y2="1776.00" stroke="#666666" stroke-width="2"/>
<text x="1378.99" y="1780.00" font-size="26" fill="#5a5a5a" text-anchor="end" stroke="#5a5a5a" stroke-width="0.6" transform="rotate(-90 1378.99 1780.00)">December</text>
<text x="790.00" y="1091.30" font-size="39" fill="#141414" text-anchor="middle" stroke="#141414" stroke-width="0.6">Rainfall change</text>
<text x="79.00" y="1438.40" font-size="26.4" fill="#141414" text-anchor="middle" stroke="#141414" stroke-width="0.6" transform="rotate(-90 79.00 1438.40)">Rainfall (mm)</text>
<text transform="translate(17.60 1040.00) scale(0.96 1)" x="0" y="0" font-size="79.9" fill="#000" stroke="#000" stroke-width="0.9">b</text>
<path d="M69.9 984 Q88.9 1018 69.9 1052" fill="none" stroke="#000" stroke-width="6" stroke-linecap="round"/>
<rect x="302.10" y="1937.50" width="25.50" height="25.50" fill="#0099cc"/>
<text x="333.60" y="1958.35" font-size="22.5" fill="#333" text-anchor="start" stroke="#333" stroke-width="0.6">Pemberton 1941-1970</text>
<rect x="563.00" y="1937.50" width="25.50" height="25.50" fill="#80ccff"/>
<text x="594.50" y="1958.35" font-size="22.5" fill="#333" text-anchor="start" stroke="#333" stroke-width="0.6">Pemberton 1981-2010</text>
<rect x="825.00" y="1938.00" width="24.50" height="24.50" fill="#ffcc5c" stroke="rgba(150,110,40,0.45)" stroke-width="1"/>
<text x="856.00" y="1958.35" font-size="22.5" fill="#333" text-anchor="start" stroke="#333" stroke-width="0.6">Deeside 1941-1970</text>
<rect x="1058.00" y="1938.00" width="24.50" height="24.50" fill="#fcfc8c" stroke="rgba(140,140,60,0.45)" stroke-width="1"/>
<text x="1089.00" y="1958.35" font-size="22.5" fill="#333" text-anchor="start" stroke="#333" stroke-width="0.6">Deeside 1981-2010</text>
<line x1="138.80" y1="2631.35" x2="1435.50" y2="2631.35" stroke="#f4f4f4" stroke-width="1.2"/>
<line x1="138.80" y1="2409.65" x2="1435.50" y2="2409.65" stroke="#f4f4f4" stroke-width="1.2"/>
<line x1="138.80" y1="2187.95" x2="1435.50" y2="2187.95" stroke="#f4f4f4" stroke-width="1.2"/>
<line x1="138.80" y1="2742.20" x2="1435.50" y2="2742.20" stroke="#f0f0f0" stroke-width="2"/>
<line x1="138.80" y1="2520.50" x2="1435.50" y2="2520.50" stroke="#f0f0f0" stroke-width="2"/>
<line x1="138.80" y1="2298.80" x2="1435.50" y2="2298.80" stroke="#f0f0f0" stroke-width="2"/>
<line x1="201.90" y1="2123.50" x2="201.90" y2="2771.50" stroke="#f0f0f0" stroke-width="2"/>
<line x1="308.25" y1="2123.50" x2="308.25" y2="2771.50" stroke="#f0f0f0" stroke-width="2"/>
<line x1="414.60" y1="2123.50" x2="414.60" y2="2771.50" stroke="#f0f0f0" stroke-width="2"/>
<line x1="520.95" y1="2123.50" x2="520.95" y2="2771.50" stroke="#f0f0f0" stroke-width="2"/>
<line x1="627.30" y1="2123.50" x2="627.30" y2="2771.50" stroke="#f0f0f0" stroke-width="2"/>
<line x1="733.65" y1="2123.50" x2="733.65" y2="2771.50" stroke="#f0f0f0" stroke-width="2"/>
<line x1="840.00" y1="2123.50" x2="840.00" y2="2771.50" stroke="#f0f0f0" stroke-width="2"/>
<line x1="946.35" y1="2123.50" x2="946.35" y2="2771.50" stroke="#f0f0f0" stroke-width="2"/>
<line x1="1052.70" y1="2123.50" x2="1052.70" y2="2771.50" stroke="#f0f0f0" stroke-width="2"/>
<line x1="1159.05" y1="2123.50" x2="1159.05" y2="2771.50" stroke="#f0f0f0" stroke-width="2"/>
<line x1="1265.40" y1="2123.50" x2="1265.40" y2="2771.50" stroke="#f0f0f0" stroke-width="2"/>
<line x1="1371.75" y1="2123.50" x2="1371.75" y2="2771.50" stroke="#f0f0f0" stroke-width="2"/>
<rect x="154.04" y="2169.20" width="48.46" height="573.00" fill="#0099cc"/>
<rect x="154.54" y="2169.70" width="46.86" height="572.50" fill="none" stroke="rgba(60,60,60,0.25)" stroke-width="1"/>
<rect x="201.90" y="2163.90" width="47.86" height="578.30" fill="#80ccff"/>
<rect x="202.40" y="2164.40" width="46.86" height="577.80" fill="none" stroke="rgba(60,60,60,0.25)" stroke-width="1"/>
<rect x="260.39" y="2167.00" width="48.46" height="575.20" fill="#0099cc"/>
<rect x="260.89" y="2167.50" width="46.86" height="574.70" fill="none" stroke="rgba(60,60,60,0.25)" stroke-width="1"/>
<rect x="308.25" y="2153.30" width="47.86" height="588.90" fill="#80ccff"/>
<rect x="308.75" y="2153.80" width="46.86" height="588.40" fill="none" stroke="rgba(60,60,60,0.25)" stroke-width="1"/>
<rect x="366.74" y="2213.40" width="48.46" height="528.80" fill="#0099cc"/>
<rect x="367.24" y="2213.90" width="46.86" height="528.30" fill="none" stroke="rgba(60,60,60,0.25)" stroke-width="1"/>
<rect x="414.60" y="2190.90" width="47.86" height="551.30" fill="#80ccff"/>
<rect x="415.10" y="2191.40" width="46.86" height="550.80" fill="none" stroke="rgba(60,60,60,0.25)" stroke-width="1"/>
<rect x="473.09" y="2292.60" width="48.46" height="449.60" fill="#0099cc"/>
<rect x="473.59" y="2293.10" width="46.86" height="449.10" fill="none" stroke="rgba(60,60,60,0.25)" stroke-width="1"/>
<rect x="520.95" y="2254.20" width="47.86" height="488.00" fill="#80ccff"/>
<rect x="521.45" y="2254.70" width="46.86" height="487.50" fill="none" stroke="rgba(60,60,60,0.25)" stroke-width="1"/>
<rect x="579.44" y="2354.80" width="48.46" height="387.40" fill="#0099cc"/>
<rect x="579.94" y="2355.30" width="46.86" height="386.90" fill="none" stroke="rgba(60,60,60,0.25)" stroke-width="1"/>
<rect x="627.30" y="2325.70" width="47.86" height="416.50" fill="#80ccff"/>
<rect x="627.80" y="2326.20" width="46.86" height="416.00" fill="none" stroke="rgba(60,60,60,0.25)" stroke-width="1"/>
<rect x="685.79" y="2399.80" width="48.46" height="342.40" fill="#0099cc"/>
<rect x="686.29" y="2400.30" width="46.86" height="341.90" fill="none" stroke="rgba(60,60,60,0.25)" stroke-width="1"/>
<rect x="733.65" y="2380.70" width="47.86" height="361.50" fill="#80ccff"/>
<rect x="734.15" y="2381.20" width="46.86" height="361.00" fill="none" stroke="rgba(60,60,60,0.25)" stroke-width="1"/>
<rect x="792.14" y="2419.60" width="48.46" height="322.60" fill="#0099cc"/>
<rect x="792.64" y="2420.10" width="46.86" height="322.10" fill="none" stroke="rgba(60,60,60,0.25)" stroke-width="1"/>
<rect x="840.00" y="2401.10" width="47.86" height="341.10" fill="#80ccff"/>
<rect x="840.50" y="2401.60" width="46.86" height="340.60" fill="none" stroke="rgba(60,60,60,0.25)" stroke-width="1"/>
<rect x="898.49" y="2406.60" width="48.46" height="335.60" fill="#0099cc"/>
<rect x="898.99" y="2407.10" width="46.86" height="335.10" fill="none" stroke="rgba(60,60,60,0.25)" stroke-width="1"/>
<rect x="946.35" y="2392.10" width="47.86" height="350.10" fill="#80ccff"/>
<rect x="946.85" y="2392.60" width="46.86" height="349.60" fill="none" stroke="rgba(60,60,60,0.25)" stroke-width="1"/>
<rect x="1004.84" y="2382.00" width="48.46" height="360.20" fill="#0099cc"/>
<rect x="1005.34" y="2382.50" width="46.86" height="359.70" fill="none" stroke="rgba(60,60,60,0.25)" stroke-width="1"/>
<rect x="1052.70" y="2363.00" width="47.86" height="379.20" fill="#80ccff"/>
<rect x="1053.20" y="2363.50" width="46.86" height="378.70" fill="none" stroke="rgba(60,60,60,0.25)" stroke-width="1"/>
<rect x="1111.19" y="2333.20" width="48.46" height="409.00" fill="#0099cc"/>
<rect x="1111.69" y="2333.70" width="46.86" height="408.50" fill="none" stroke="rgba(60,60,60,0.25)" stroke-width="1"/>
<rect x="1159.05" y="2319.60" width="47.86" height="422.60" fill="#80ccff"/>
<rect x="1159.55" y="2320.10" width="46.86" height="422.10" fill="none" stroke="rgba(60,60,60,0.25)" stroke-width="1"/>
<rect x="1217.54" y="2277.30" width="48.46" height="464.90" fill="#0099cc"/>
<rect x="1218.04" y="2277.80" width="46.86" height="464.40" fill="none" stroke="rgba(60,60,60,0.25)" stroke-width="1"/>
<rect x="1265.40" y="2259.10" width="47.86" height="483.10" fill="#80ccff"/>
<rect x="1265.90" y="2259.60" width="46.86" height="482.60" fill="none" stroke="rgba(60,60,60,0.25)" stroke-width="1"/>
<rect x="1323.89" y="2220.30" width="48.46" height="521.90" fill="#0099cc"/>
<rect x="1324.39" y="2220.80" width="46.86" height="521.40" fill="none" stroke="rgba(60,60,60,0.25)" stroke-width="1"/>
<rect x="1371.75" y="2212.70" width="47.86" height="529.50" fill="#80ccff"/>
<rect x="1372.25" y="2213.20" width="46.86" height="529.00" fill="none" stroke="rgba(60,60,60,0.25)" stroke-width="1"/>
<rect x="138.80" y="2123.50" width="1296.70" height="648.00" fill="none" stroke="#c4c4c4" stroke-width="2.6"/>
<line x1="133.80" y1="2742.20" x2="138.80" y2="2742.20" stroke="#666666" stroke-width="2"/>
<text x="129.30" y="2753.00" font-size="30" fill="#6a6a6a" text-anchor="end" stroke="#6a6a6a" stroke-width="0.6">0</text>
<line x1="133.80" y1="2520.50" x2="138.80" y2="2520.50" stroke="#666666" stroke-width="2"/>
<text x="129.30" y="2531.30" font-size="30" fill="#6a6a6a" text-anchor="end" stroke="#6a6a6a" stroke-width="0.6">10</text>
<line x1="133.80" y1="2298.80" x2="138.80" y2="2298.80" stroke="#666666" stroke-width="2"/>
<text x="129.30" y="2309.60" font-size="30" fill="#6a6a6a" text-anchor="end" stroke="#6a6a6a" stroke-width="0.6">20</text>
<line x1="201.90" y1="2771.50" x2="201.90" y2="2776.50" stroke="#666666" stroke-width="2"/>
<text x="209.15" y="2781.50" font-size="29" fill="#5a5a5a" text-anchor="end" stroke="#5a5a5a" stroke-width="0.6" transform="rotate(-90 209.15 2781.50)">January</text>
<line x1="308.25" y1="2771.50" x2="308.25" y2="2776.50" stroke="#666666" stroke-width="2"/>
<text x="315.50" y="2781.50" font-size="29" fill="#5a5a5a" text-anchor="end" stroke="#5a5a5a" stroke-width="0.6" transform="rotate(-90 315.50 2781.50)">February</text>
<line x1="414.60" y1="2771.50" x2="414.60" y2="2776.50" stroke="#666666" stroke-width="2"/>
<text x="421.85" y="2781.50" font-size="29" fill="#5a5a5a" text-anchor="end" stroke="#5a5a5a" stroke-width="0.6" transform="rotate(-90 421.85 2781.50)">March</text>
<line x1="520.95" y1="2771.50" x2="520.95" y2="2776.50" stroke="#666666" stroke-width="2"/>
<text x="528.20" y="2781.50" font-size="29" fill="#5a5a5a" text-anchor="end" stroke="#5a5a5a" stroke-width="0.6" transform="rotate(-90 528.20 2781.50)">April</text>
<line x1="627.30" y1="2771.50" x2="627.30" y2="2776.50" stroke="#666666" stroke-width="2"/>
<text x="634.55" y="2781.50" font-size="29" fill="#5a5a5a" text-anchor="end" stroke="#5a5a5a" stroke-width="0.6" transform="rotate(-90 634.55 2781.50)">May</text>
<line x1="733.65" y1="2771.50" x2="733.65" y2="2776.50" stroke="#666666" stroke-width="2"/>
<text x="740.90" y="2781.50" font-size="29" fill="#5a5a5a" text-anchor="end" stroke="#5a5a5a" stroke-width="0.6" transform="rotate(-90 740.90 2781.50)">June</text>
<line x1="840.00" y1="2771.50" x2="840.00" y2="2776.50" stroke="#666666" stroke-width="2"/>
<text x="847.25" y="2781.50" font-size="29" fill="#5a5a5a" text-anchor="end" stroke="#5a5a5a" stroke-width="0.6" transform="rotate(-90 847.25 2781.50)">July</text>
<line x1="946.35" y1="2771.50" x2="946.35" y2="2776.50" stroke="#666666" stroke-width="2"/>
<text x="953.60" y="2781.50" font-size="29" fill="#5a5a5a" text-anchor="end" stroke="#5a5a5a" stroke-width="0.6" transform="rotate(-90 953.60 2781.50)">August</text>
<line x1="1052.70" y1="2771.50" x2="1052.70" y2="2776.50" stroke="#666666" stroke-width="2"/>
<text x="1059.95" y="2781.50" font-size="29" fill="#5a5a5a" text-anchor="end" stroke="#5a5a5a" stroke-width="0.6" transform="rotate(-90 1059.95 2781.50)">September</text>
<line x1="1159.05" y1="2771.50" x2="1159.05" y2="2776.50" stroke="#666666" stroke-width="2"/>
<text x="1166.30" y="2781.50" font-size="29" fill="#5a5a5a" text-anchor="end" stroke="#5a5a5a" stroke-width="0.6" transform="rotate(-90 1166.30 2781.50)">October</text>
<line x1="1265.40" y1="2771.50" x2="1265.40" y2="2776.50" stroke="#666666" stroke-width="2"/>
<text x="1272.65" y="2781.50" font-size="29" fill="#5a5a5a" text-anchor="end" stroke="#5a5a5a" stroke-width="0.6" transform="rotate(-90 1272.65 2781.50)">November</text>
<line x1="1371.75" y1="2771.50" x2="1371.75" y2="2776.50" stroke="#666666" stroke-width="2"/>
<text x="1379.00" y="2781.50" font-size="29" fill="#5a5a5a" text-anchor="end" stroke="#5a5a5a" stroke-width="0.6" transform="rotate(-90 1379.00 2781.50)">December</text>
<text x="787.70" y="2108.10" font-size="39" fill="#141414" text-anchor="middle" stroke="#141414" stroke-width="0.6">Temperature shift</text>
<text x="80.00" y="2448.50" font-size="33" fill="#141414" text-anchor="middle" stroke="#141414" stroke-width="0.6" transform="rotate(-90 80.00 2448.50)">Temperature (°C)</text>
<text transform="translate(16.70 2081.90) scale(0.926 1)" x="0" y="0" font-size="75.5" fill="#000" stroke="#000" stroke-width="0.9">c</text>
<path d="M61 2025 Q80.8 2059 61 2093" fill="none" stroke="#000" stroke-width="6" stroke-linecap="round"/>
<rect x="633.00" y="2955.00" width="25.50" height="25.50" fill="#0099cc"/>
<text x="665.50" y="2977.11" font-size="26" fill="#333" text-anchor="start" stroke="#333" stroke-width="0.6">1941-1970</text>
<rect x="792.50" y="2955.00" width="25.50" height="25.50" fill="#80ccff"/>
<text x="825.00" y="2977.11" font-size="26" fill="#333" text-anchor="start" stroke="#333" stroke-width="0.6">1981-2010</text>
</svg>
</body></html>
